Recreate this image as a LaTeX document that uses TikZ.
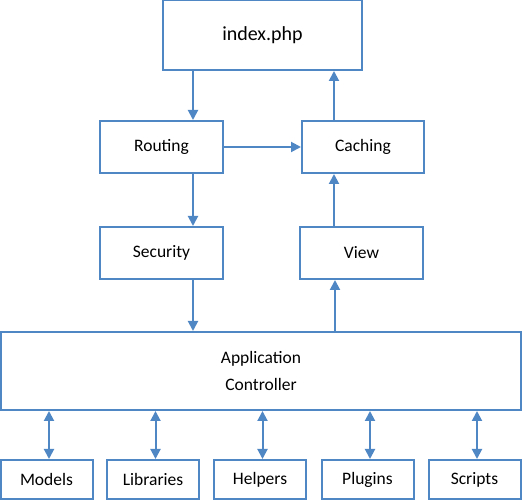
\documentclass[tikz,border=0pt]{standalone}
\usepackage{fontspec}
\setmainfont{Carlito}
\usetikzlibrary{arrows.meta}

\definecolor{boxblue}{RGB}{79,134,196}

\begin{document}
\begin{tikzpicture}[x=1pt,y=1pt,
  box/.style={draw=boxblue, line width=2pt, fill=white, inner sep=0pt, font=\fontsize{17.5}{21}\selectfont, align=center},
  arr/.style={draw=boxblue, line width=2pt, -{Triangle[length=10pt,width=10pt]}},
  dblarr/.style={draw=boxblue, line width=2pt, {Triangle[length=10pt,width=10pt]}-{Triangle[length=10pt,width=10pt]}}]
  \useasboundingbox (0,0) rectangle (525,500);
  \node[box, minimum width=199pt, minimum height=70pt, font=\fontsize{20}{24}\selectfont] (index) at (262.5,465) {index.php};
  \node[box, minimum width=123pt, minimum height=52pt] (routing) at (161.5,353) {Routing};
  \node[box, minimum width=122pt, minimum height=52pt] (caching) at (363,353) {Caching};
  \node[box, minimum width=123pt, minimum height=52pt] (security) at (161.5,247) {Security};
  \node[box, minimum width=123pt, minimum height=52pt] (view) at (361.5,247) {View};
  \node[box, minimum width=520pt, minimum height=78pt, font=\fontsize{17.5}{27}\selectfont] (app) at (261,129) {Application\\Controller};
   \foreach \n/\x/\t in {models/46.5/Models,libraries/153/Libraries,helpers/260/Helpers,plugins/367.5/Plugins,scripts/474.5/Scripts}
   {
    \node[box, minimum width=92pt, minimum height=39pt] (\n) at (\x,20.5) {\t};
    \draw[dblarr] ([xshift=2.5pt]\n.north) -- ([xshift=2.5pt]\n.north |- app.south);
   }
  \draw[arr] ([xshift=31.5pt]routing.north |- index.south) -- ([xshift=31.5pt]routing.north);
  \draw[arr] (routing.east) -- (caching.west);
  \draw[arr] ([xshift=-29pt]caching.north) -- ([xshift=-29pt]caching.north |- index.south);
  \draw[arr] ([xshift=31.5pt]security.north |- routing.south) -- ([xshift=31.5pt]security.north);
  \draw[arr] ([xshift=-27.5pt]view.north) -- ([xshift=-27.5pt]view.north |- caching.south);
  \draw[arr] ([xshift=31.5pt]security.south) -- ([xshift=31.5pt]security.south |- app.north);
  \draw[arr] ([xshift=-26.5pt]view.south |- app.north) -- ([xshift=-26.5pt]view.south);
\end{tikzpicture}
\end{document}
